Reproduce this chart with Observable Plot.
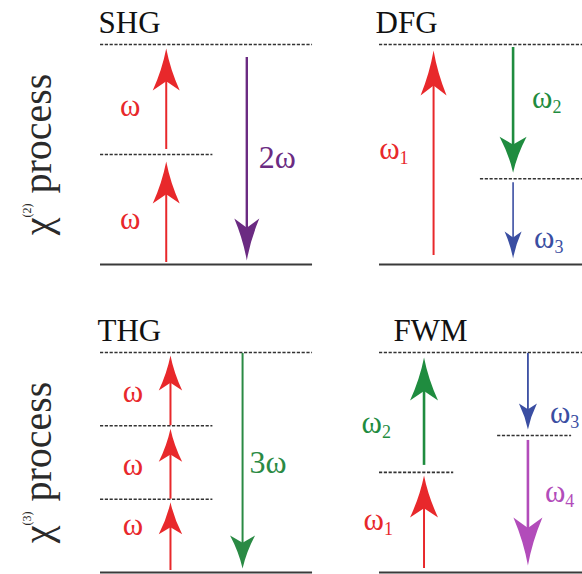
<!DOCTYPE html>
<html>
<head>
<meta charset="utf-8">
<script src="https://cdn.jsdelivr.net/npm/d3@7"></script>
<script src="https://cdn.jsdelivr.net/npm/@observablehq/plot@0.6"></script>
<style>
  html, body { margin: 0; padding: 0; background: #fff; }
  #chart svg { display: block; }
</style>
</head>
<body>
<div id="chart"></div>
<script>
// ---- Data -------------------------------------------------------------
// Nonlinear processes, one energy-level diagram each
const processes = ["SHG", "DFG", "THG", "FWM"];
const orderLabels = ["χ(2) process", "χ(3) process"];

// Energy levels (in units of the panel's top virtual level)
const levelProcess = ["SHG", "SHG", "SHG", "DFG", "DFG", "DFG", "THG", "THG", "THG", "THG", "FWM", "FWM", "FWM", "FWM"];
const levelEnergy  = [0, 0.5, 1, 0, 0.39, 1, 0, 0.333, 0.667, 1, 0, 0.455, 0.623, 1];
const levelKind    = ["ground", "virtual", "virtual", "ground", "virtual", "virtual", "ground", "virtual", "virtual", "virtual", "ground", "virtual", "virtual", "virtual"];

// Photons: transitions between levels
const photonProcess = ["SHG", "SHG", "SHG", "DFG", "DFG", "DFG", "THG", "THG", "THG", "THG", "FWM", "FWM", "FWM", "FWM"];
const photonLabel   = ["ω", "ω", "2ω", "ω1", "ω2", "ω3", "ω", "ω", "ω", "3ω", "ω1", "ω2", "ω3", "ω4"];
const photonFrom    = [0, 0.5, 1, 0, 1, 0.39, 0, 0.333, 0.667, 1, 0, 0.455, 1, 0.623];
const photonTo      = [0.5, 1, 0, 1, 0.39, 0, 0.333, 0.667, 1, 0, 0.455, 1, 0.623, 0];

// Photon colours
const colorDomain = ["ω", "ω1", "2ω", "ω2", "3ω", "ω3", "ω4"];
const colorRange  = ["#e8282b", "#e8282b", "#6b2b82", "#1f8c3f", "#2a8a44", "#3a4ea2", "#b24cba"];

// ---- Layout -----------------------------------------------------------
const grid = {SHG: [0, 0], DFG: [1, 0], THG: [0, 1], FWM: [1, 1]}; // [column, row]
const PANEL_W = 0.76;   // panel width, in column units
const ROW_GAP = 1.4;    // row spacing, in energy units
const titleDx = {SHG: -2, DFG: -4, THG: -3, FWM: 14};

const levelSpan = [[0, 1], [0, 0.53], [0, 1], [0, 1], [0.476, 1], [0, 1],
                   [0, 1], [0, 0.53], [0, 0.53], [0, 1], [0, 1], [0, 0.35], [0.557, 0.906], [0, 1]];
const photonLane = [0.31, 0.31, 0.69, 0.255, 0.63, 0.63, 0.33, 0.33, 0.33, 0.67, 0.21, 0.21, 0.70, 0.70];
// arrow head [half width, length] and gaps [at start, at tip], px
const photonHead = [[13.5, 42], [13.5, 42], [12.5, 42], [13, 45], [13.5, 36], [8.5, 27],
                    [11.7, 32], [11.7, 33], [11.7, 35], [12.5, 33], [14, 42], [14, 43], [9, 26], [14.5, 48]];
const photonGap  = [[2, 7], [5, 4], [13, 4], [9, 6], [3, 6], [4, 6],
                    [2, 3], [0, 3], [0, 3], [1, 4], [4, 3], [7, 5], [1, 6], [5, 7]];
const photonWidth = [2, 2, 2.4, 2, 2.6, 1.6, 2, 2, 2, 2, 2, 2.6, 1.8, 2.6];
// label offsets [dx, dy, anchor, font size]
const labelPlace = [[-36, 19.5, "middle", 31], [-36, 16.5, "middle", 31], [12, 13, "start", 32],
                    [-25, 4, "end", 31], [19, -4, "start", 31], [21, 26, "start", 31],
                    [-37.5, -0.5, "middle", 31], [-37.5, 12, "middle", 31], [-37.5, 12.5, "middle", 31],
                    [7, 10, "start", 32], [-31, 8, "end", 31], [-33, 21, "end", 31],
                    [22, 29.5, "start", 31], [17, -1.5, "start", 31]];

const px = (proc, u) => grid[proc][0] + u * PANEL_W;
const py = (proc, e) => e - grid[proc][1] * ROW_GAP;

// filled, notched arrow head with its tip at the symbol origin
function arrowHead(w, len, up) {
  const s = up ? 1 : -1;
  return {
    draw(ctx) {
      ctx.moveTo(0, 0);
      ctx.quadraticCurveTo(0.3 * w, 0.5 * len * s, w, len * s);
      ctx.lineTo(0, 0.78 * len * s);
      ctx.lineTo(-w, len * s);
      ctx.quadraticCurveTo(-0.3 * w, 0.5 * len * s, 0, 0);
      ctx.closePath();
    }
  };
}

const levels = levelEnergy.map((e, i) => i);
const photons = photonLabel.map((l, i) => i);

const marks = [];

// energy levels
marks.push(Plot.ruleY(levels.filter(i => levelKind[i] === "virtual"), {
  y: i => py(levelProcess[i], levelEnergy[i]),
  x1: i => px(levelProcess[i], levelSpan[i][0]),
  x2: i => px(levelProcess[i], levelSpan[i][1]),
  stroke: "#333", strokeWidth: 1.6, strokeDasharray: "3.2,1.6"
}));
marks.push(Plot.ruleY(levels.filter(i => levelKind[i] === "ground"), {
  y: i => py(levelProcess[i], levelEnergy[i]),
  x1: i => px(levelProcess[i], levelSpan[i][0]),
  x2: i => px(levelProcess[i], levelSpan[i][1]),
  stroke: "#3a3a3a", strokeWidth: 2.2
}));

// photon arrows and labels
for (const i of photons) {
  const p = photonProcess[i];
  const up = photonTo[i] > photonFrom[i];
  const [w, len] = photonHead[i];
  const [g0, g1] = photonGap[i];
  const x = () => px(p, photonLane[i]);
  marks.push(Plot.ruleX([i], {
    x,
    y1: () => py(p, Math.max(photonFrom[i], photonTo[i])),
    y2: () => py(p, Math.min(photonFrom[i], photonTo[i])),
    stroke: () => photonLabel[i],
    strokeWidth: photonWidth[i],
    insetTop: up ? g1 + 0.6 * len : g0,
    insetBottom: up ? g0 : g1 + 0.6 * len
  }));
  marks.push(Plot.dot([i], {
    x,
    y: () => py(p, photonTo[i]),
    symbol: arrowHead(w, len, up),
    r: 6,
    fill: () => photonLabel[i],
    stroke: "none",
    dy: up ? g1 : -g1
  }));
  const [dx, dy, anchor, size] = labelPlace[i];
  marks.push(Plot.text([i], {
    x,
    y: () => py(p, (photonFrom[i] + photonTo[i]) / 2),
    text: () => photonLabel[i],
    fill: () => photonLabel[i],
    dx, dy,
    textAnchor: anchor,
    lineAnchor: "bottom",
    fontSize: size
  }));
}

// panel titles
for (const p of processes) {
  marks.push(Plot.text([p], {
    x: () => px(p, 0),
    y: () => py(p, 1),
    text: d => d,
    dx: titleDx[p],
    dy: -12,
    textAnchor: "start",
    lineAnchor: "bottom",
    fontSize: 31,
    fill: "#111"
  }));
}

// row labels
marks.push(Plot.text(orderLabels, {
  x: 0,
  y: (d, i) => 0.5 - i * ROW_GAP,
  text: d => d,
  rotate: -90,
  dx: -50,
  textAnchor: "middle",
  lineAnchor: "bottom",
  fontSize: 40,
  fill: "#2a2a2a"
}));

const chart = Plot.plot({
  width: 582,
  height: 574,
  margin: 0,
  x: {domain: [-100 / 279, 482 / 279], axis: null},
  y: {domain: [1.2 - 574 / 220, 1.2], axis: null},
  color: {domain: colorDomain, range: colorRange},
  style: {fontFamily: "'Liberation Serif', 'Times New Roman', serif", background: "#fff"},
  marks
});

// superscript orders and photon subscripts
d3.select(chart).selectAll("text").each(function () {
  const t = this.textContent;
  let m;
  if ((m = t.match(/^(χ)\((\d)\)(.*)$/))) {
    const el = d3.select(this).text("");
    el.append("tspan").text(m[1]);
    el.append("tspan").attr("font-size", 12).attr("dy", -20).text(`(${m[2]})`);
    el.append("tspan").attr("dy", 20).text(m[3]);
  } else if ((m = t.match(/^ω(\d)$/))) {
    const el = d3.select(this).text("");
    el.append("tspan").text("ω");
    el.append("tspan").attr("font-size", 18).attr("dy", 5).text(m[1]);
  }
});

document.getElementById("chart").append(chart);
</script>
</body>
</html>
